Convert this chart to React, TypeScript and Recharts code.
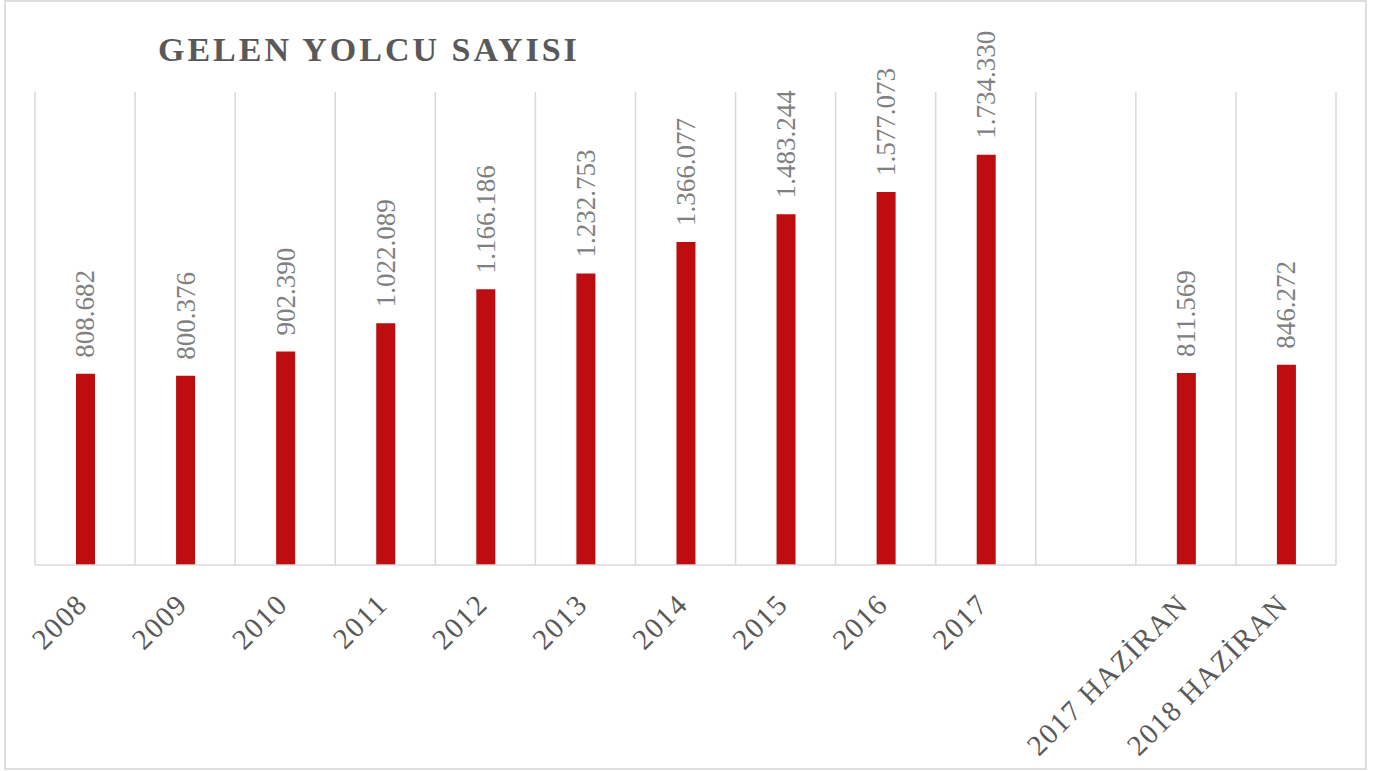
import { BarChart, Bar, XAxis, YAxis, CartesianGrid, LabelList } from 'recharts'

const categories = [
  '2008', '2009', '2010', '2011', '2012', '2013', '2014', '2015', '2016', '2017',
  '', '2017 HAZİRAN', '2018 HAZİRAN',
]
const passengers: (number | null)[] = [
  808682, 800376, 902390, 1022089, 1166186, 1232753, 1366077, 1483244, 1577073, 1734330,
  null, 811569, 846272,
]

const title = 'GELEN YOLCU SAYISI'

const data = categories.map((name, i) => ({ name, value: passengers[i] }))

const FONT = '"Liberation Serif", "Times New Roman", serif'
const BAR_RED = '#BD0D11'
const GRID = '#D9D9D9'

// 1.234.567 style (Turkish thousands separator)
function formatNumber(v: number) {
  return String(Math.round(v)).replace(/\B(?=(\d{3})+(?!\d))/g, '.')
}

function ValueLabel(props: any) {
  const { x, y, width, value } = props
  if (value == null) return null
  const cx = Number(x) + Number(width) / 2 + 9
  const ty = Number(y) - 16
  return (
    <text
      x={cx}
      y={ty}
      transform={`rotate(-90, ${cx}, ${ty})`}
      textAnchor="start"
      fontFamily={FONT}
      fontSize={27}
      fill="#808080"
    >
      {formatNumber(Number(value))}
    </text>
  )
}

function CategoryTick(props: any) {
  const { x, y, payload } = props
  if (!payload?.value) return null
  const tx = Number(x) + 4
  const ty = Number(y) + 41
  return (
    <text
      x={tx}
      y={ty}
      transform={`rotate(-45, ${tx}, ${ty})`}
      textAnchor="end"
      fontFamily={FONT}
      fontSize={29}
      letterSpacing={1.5}
      fill="#595959"
    >
      {payload.value}
    </text>
  )
}

export default function App() {
  return (
    <div style={{ position: 'absolute', left: 0, top: 0, width: 1376, height: 771, background: '#fff' }}>
      <div
        style={{
          position: 'absolute',
          left: 4,
          top: 0,
          width: 1359,
          height: 766,
          border: '2px solid #DEDEDE',
        }}
      />
      <svg style={{ position: 'absolute', left: 0, top: 0 }} width={1376} height={100}>
        <text
          x={158}
          y={61}
          fontFamily={FONT}
          fontWeight="bold"
          fontSize={34}
          letterSpacing={3}
          fill="#595959"
        >
          {title}
        </text>
      </svg>
      <div style={{ position: 'absolute', left: 0, top: 0 }}>
        <BarChart
          width={1376}
          height={771}
          data={data}
          margin={{ top: 92, right: 40, bottom: 56, left: 35 }}
          barCategoryGap={0}
        >
          <CartesianGrid
            horizontal={false}
            stroke={GRID}
            strokeWidth={1.5}
            verticalCoordinatesGenerator={({ offset }: any) =>
              categories
                .concat([''])
                .map((_, i) => offset.left + (offset.width * i) / categories.length)
            }
          />
          <XAxis
            dataKey="name"
            interval={0}
            height={150}
            tickLine={false}
            tickSize={0}
            tickMargin={0}
            axisLine={{ stroke: GRID, strokeWidth: 1.5 }}
            tick={<CategoryTick />}
          />
          <YAxis hide domain={[0, 2000000]} />
          <Bar dataKey="value" fill={BAR_RED} barSize={19} isAnimationActive={false}>
            <LabelList dataKey="value" content={<ValueLabel />} />
          </Bar>
        </BarChart>
      </div>
    </div>
  )
}
